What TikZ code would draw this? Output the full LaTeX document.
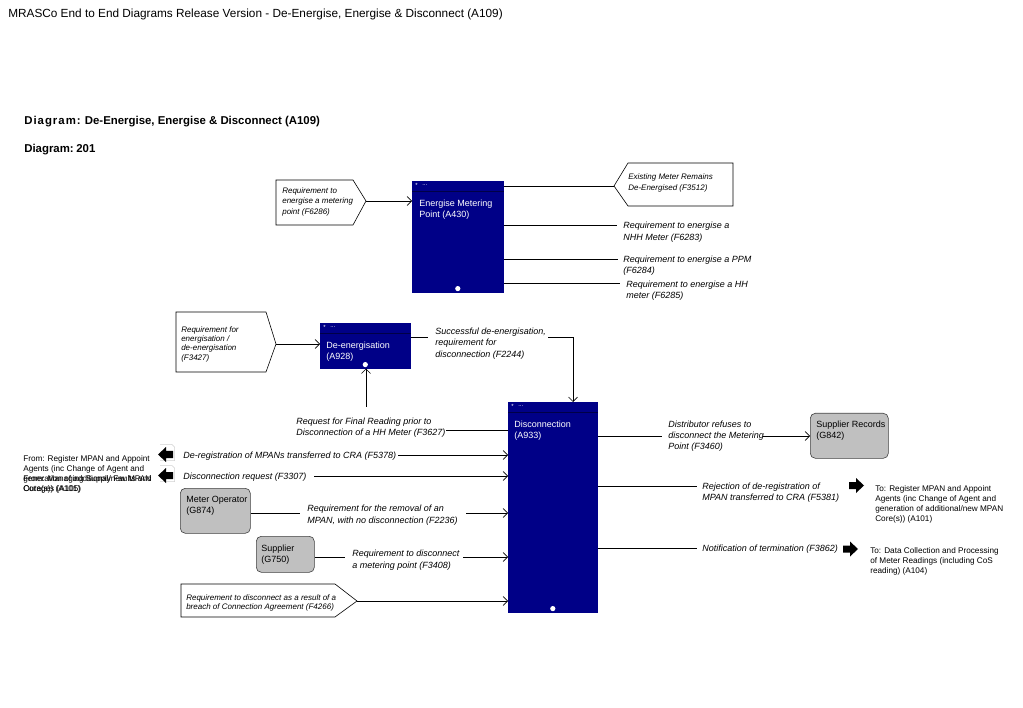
\documentclass[tikz,border=0pt]{standalone}
\usepackage{fontspec}
\setmainfont{Liberation Sans}
\usetikzlibrary{arrows.meta,calc}
\definecolor{navy}{RGB}{0,0,135}
\definecolor{navydark}{RGB}{0,0,70}
\definecolor{boxgray}{RGB}{192,192,192}
\newcommand{\dgsp}{\kern1pt}
\begin{document}
\begin{tikzpicture}[x=1pt,y=-1pt,
  line width=0.6pt,
  arr/.style={-{Straight Barb[length=4.5pt,width=9pt]}},
  proc/.style={draw=navy,fill=navy,inner sep=0,anchor=north west},
  hdrline/.style={draw=navydark,line width=1pt},
  ptxt/.style={inner sep=0,anchor=north west,align=left,text=white,font=\fontsize{9}{11}\selectfont},
  star/.style={inner sep=0,anchor=north west,text=white,font=\fontsize{6}{6}\selectfont},
  gbox/.style={draw=black!75,fill=boxgray,rounded corners=5pt,inner sep=0,anchor=north west},
  gtxt/.style={inner sep=0,anchor=north west,align=left,font=\fontsize{9}{11}\selectfont},
  lab/.style={inner sep=0,anchor=north west,align=left,font=\fontsize{9}{11.5}\selectfont\itshape},
  plab/.style={inner sep=0,anchor=north west,align=left,font=\fontsize{8}{10.5}\selectfont\itshape},
  ext/.style={inner sep=0,anchor=north west,align=left,font=\fontsize{8.2}{10}\selectfont},
  pent/.style={draw=black,line width=0.6pt,fill=white},
  blockR/.pic={\fill[black] (0,-3.5) -- (7,-3.5) -- (7,-7.5) -- (15,0) -- (7,7.5) -- (7,3.5) -- (0,3.5) -- cycle;},
  blockL/.pic={\draw[black!18,line width=0.5pt] (-13,-10) -- (-1,-10) -- (1.5,-7.5) -- (1.5,6) -- (-13,6);
               \fill[black] (0,-3.5) -- (-7,-3.5) -- (-7,-7.5) -- (-15,0) -- (-7,7.5) -- (-7,3.5) -- (0,3.5) -- cycle;}
]
\useasboundingbox (0,0) rectangle (1023,708);

% Titles
\node[inner sep=0,anchor=north west,font=\fontsize{11.8}{14}\selectfont] (title) at (8,8.5)
  {MRASCo End to End Diagrams Release Version - De-Energise, Energise \& Disconnect (A109)};
\node[inner sep=0,anchor=north west,font=\fontsize{11.4}{13}\selectfont\bfseries] (diag) at (24,115.5)
  {D\dgsp i\dgsp a\dgsp g\dgsp r\dgsp a\dgsp m\dgsp: De-Energise, Energise \& Disconnect (A109)};
\node[inner sep=0,anchor=north west,font=\fontsize{11.4}{13}\selectfont\bfseries] (diagno) at (24,143.5)
  {Diagram:\kern-0.5pt\ 201};

% Process boxes
\node[proc,minimum width=91pt,minimum height=111pt] (A430) at (412,181) {};
\draw[hdrline] ($(A430.north west)+(0,11)$) -- ($(A430.north east)+(0,11)$);
\node[star] (A430s) at (415,183) {*};
\node[star] (A430d) at (422,184) {...};
\node[ptxt] (A430t) at (419,199.5) {Energise Metering\\Point (A430)};
\fill[white] ($(A430.south)+(0,-4)$) circle (2.6pt);

\node[proc,minimum width=90pt,minimum height=45pt] (A928) at (320,323) {};
\draw[hdrline] ($(A928.north west)+(0,11)$) -- ($(A928.north east)+(0,11)$);
\node[star] (A928s) at (323,325) {*};
\node[star] (A928d) at (330,326) {...};
\node[ptxt] (A928t) at (326,341.5) {De-energisation\\(A928)};
\fill[white] ($(A928.south)+(0,-4)$) circle (2.6pt);

\node[proc,minimum width=89pt,minimum height=210pt] (A933) at (508,402) {};
\draw[hdrline] ($(A933.north west)+(0,11)$) -- ($(A933.north east)+(0,11)$);
\node[star] (A933s) at (511,404) {*};
\node[star] (A933d) at (518,405) {...};
\node[ptxt] (A933t) at (514,420.5) {Disconnection\\(A933)};
\fill[white] ($(A933.south)+(0,-4)$) circle (2.6pt);

% Gray boxes
\node[gbox,minimum width=70pt,minimum height=45pt] (G874) at (180,488) {};
\node[gtxt] (G874t) at (186,495.5) {Meter Operator\\(G874)};
\node[gbox,minimum width=58pt,minimum height=36pt] (G750) at (256,536) {};
\node[gtxt] (G750t) at (261,544.5) {Supplier\\(G750)};
\node[gbox,minimum width=78pt,minimum height=45pt] (G842) at (810,413) {};
\node[gtxt] (G842t) at (816,420.5) {Supplier Records\\(G842)};

% Pentagon interfaces
\draw[pent] (276,180) -- (353,180) -- (366,201) -- (353,225) -- (276,225) -- cycle;
\coordinate (t6286) at (366,201);
\node[plab] (p6286) at (282,187) {Requirement to\\energise a metering\\point (F6286)};
\draw[arr] (t6286) -- (t6286 -| A430.west);

\draw[pent] (614,186) -- (628,163) -- (733,163) -- (733,206) -- (628,206) -- cycle;
\coordinate (t3512) at (614,186);
\node[plab,font=\fontsize{8}{11}\selectfont\itshape] (p3512) at (628,173.5) {Existing Meter Remains\\De-Energised (F3512)};
\draw (A430.east |- t3512) -- (t3512);

\draw[pent] (176,312) -- (266,312) -- (276,344) -- (266,372) -- (176,372) -- cycle;
\coordinate (t3427) at (276,344);
\node[plab,font=\fontsize{8}{9.2}\selectfont\itshape] (p3427) at (181,326.5) {Requirement for\\energisation /\\de-energisation\\(F3427)};
\draw[arr] (t3427) -- (t3427 -| A928.west);

\draw[pent] (181,584) -- (335,584) -- (357,601) -- (335,617) -- (181,617) -- cycle;
\coordinate (t4266) at (357,601);
\node[plab,font=\fontsize{8}{9}\selectfont\itshape] (p4266) at (186,594.5) {Requirement to disconnect as a result of a\\breach of Connection Agreement (F4266)};
\draw[arr] (t4266) -- (t4266 -| A933.west);

% A430 outputs
\coordinate (q1) at (617,225);
\draw (A430.east |- q1) -- (q1);
\node[lab] (l6283) at (623,221.7) {Requirement to energise a\\NHH Meter (F6283)};
\coordinate (q2) at (618,259);
\draw (A430.east |- q2) -- (q2);
\node[lab] (l6284) at (623,255.2) {Requirement to energise a PPM\\(F6284)};
\coordinate (q3) at (620,283);
\draw (A430.east |- q3) -- (q3);
\node[lab] (l6285) at (626,280.2) {Requirement to energise a HH\\meter (F6285)};

% A928 -> A933
\coordinate (k1) at (428,337);
\coordinate (k2) at (548,337);
\coordinate (k3) at (573,337);
\draw (A928.east |- k1) -- (k1);
\node[lab] (l2244) at (435,327.5) {Successful de-energisation,\\requirement for\\disconnection (F2244)};
\draw[arr] (k2) -- (k3) -- (k3 |- A933.north);

% A933 -> A928
\coordinate (m1) at (446,430);
\coordinate (m2) at (366,407);
\draw (A933.west |- m1) -- (m1);
\node[lab] (l3627) at (296,417.5) {Request for Final Reading prior to\\Disconnection of a HH Meter (F3627)};
\draw[arr] (m2) -- (m2 |- A928.south);

% Inputs to A933
\pic at (173,454.5) {blockL};
\pic at (173,475.5) {blockL};
\node[ext] (fromA) at (23,455) {From: Register MPAN and Appoint\\Agents (inc Change of Agent and\\generation of additional/new MPAN\\Core(s)) (A101)};
\node[ext] (fromB) at (23,475) {From: Managing Supply Faults and\\Outages (A105)};

\node[lab] (l5378) at (183,451.7) {De-registration of MPANs transferred to CRA (F5378)};
\coordinate (n1) at (398,455);
\draw[arr] (n1) -- (n1 -| A933.west);

\node[lab] (l3307) at (183,472.7) {Disconnection request (F3307)};
\coordinate (n2) at (314,476);
\draw[arr] (n2) -- (n2 -| A933.west);

\coordinate (n3a) at (300,513);
\coordinate (n3b) at (466,513);
\draw (G874.east |- n3a) -- (n3a);
\node[lab] (l2236) at (307,504.7) {Requirement for the removal of an\\MPAN, with no disconnection (F2236)};
\draw[arr] (n3b) -- (n3b -| A933.west);

\coordinate (n4a) at (345,557);
\coordinate (n4b) at (463,557);
\draw (G750.east |- n4a) -- (n4a);
\node[lab] (l3408) at (352,549.7) {Requirement to disconnect\\a metering point (F3408)};
\draw[arr] (n4b) -- (n4b -| A933.west);

% Outputs from A933
\coordinate (o1a) at (662,436);
\coordinate (o1b) at (763,436);
\draw (A933.east |- o1a) -- (o1a);
\node[lab,font=\fontsize{9}{11}\selectfont\itshape] (l3460) at (668,420.7) {Distributor refuses to\\disconnect the Metering\\Point (F3460)};
\draw[arr] (o1b) -- (o1b -| G842.west);

\coordinate (o2) at (697,486);
\draw (A933.east |- o2) -- (o2);
\node[lab,font=\fontsize{9}{10.5}\selectfont\itshape] (l5381) at (702,482.7) {Rejection of de-registration of\\MPAN transferred to CRA (F5381)};
\pic at (849,485.5) {blockR};
\node[ext] (toA) at (875,485) {To: Register MPAN and Appoint\\Agents (inc Change of Agent and\\generation of additional/new MPAN\\Core(s)) (A101)};

\coordinate (o3) at (697,548);
\draw (A933.east |- o3) -- (o3);
\node[lab] (l3862) at (702,544.7) {Notification of termination (F3862)};
\pic at (843,549) {blockR};
\node[ext] (toB) at (870,547) {To: Data Collection and Processing\\of Meter Readings (including CoS\\reading) (A104)};
\end{tikzpicture}
\end{document}
